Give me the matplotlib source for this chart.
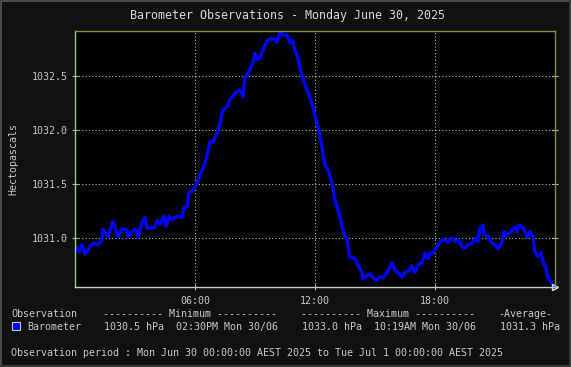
import numpy as np
import matplotlib
matplotlib.use("Agg")
import matplotlib.pyplot as plt
from matplotlib.patches import Rectangle

# barometer readings, hour of day vs hPa
hours = [0.00, 0.20, 0.35, 0.50, 0.75, 0.90, 1.15, 1.35, 1.40, 1.65,
         1.90, 2.15, 2.35, 2.60, 2.65, 2.85, 3.05, 3.15, 3.35, 3.50,
         3.60, 4.00, 4.10, 4.25, 4.45, 4.55, 4.70, 4.85, 5.00, 5.15,
         5.35, 5.45, 5.60, 5.70, 5.90, 6.10, 6.25, 6.50, 6.65, 6.75,
         6.90, 7.10, 7.25, 7.40, 7.60, 7.75, 8.00, 8.25, 8.40, 8.50,
         8.70, 8.90, 9.00, 9.10, 9.25, 9.40, 9.60, 9.90, 10.10, 10.25,
         10.40, 10.60, 10.75, 10.85, 11.00, 11.15, 11.25, 11.40, 11.60, 11.75,
         11.90, 12.10, 12.25, 12.40, 12.50, 12.65, 12.85, 13.00, 13.25, 13.40,
         13.60, 13.75, 14.00, 14.15, 14.35, 14.40, 14.60, 14.75, 14.90, 15.10,
         15.25, 15.40, 15.60, 15.85, 16.00, 16.15, 16.35, 16.50, 16.65, 16.85,
         17.00, 17.15, 17.35, 17.50, 17.65, 17.75, 17.90, 18.10, 18.25, 18.40,
         18.65, 18.85, 19.00, 19.20, 19.35, 19.50, 19.65, 19.85, 20.00, 20.15,
         20.25, 20.40, 20.45, 20.65, 20.85, 21.00, 21.15, 21.35, 21.45, 21.60,
         21.85, 22.00, 22.10, 22.20, 22.40, 22.60, 22.75, 22.90, 23.00, 23.15,
         23.30, 23.40, 23.55, 23.65, 23.85, 24.00]
pressure = [1030.94, 1030.87, 1030.94, 1030.85, 1030.92, 1030.95, 1030.94, 1030.98, 1031.08, 1031.01,
            1031.15, 1031.01, 1031.08, 1031.08, 1031.01, 1031.06, 1031.08, 1031.01, 1031.14, 1031.19,
            1031.09, 1031.10, 1031.16, 1031.13, 1031.20, 1031.11, 1031.20, 1031.17, 1031.19, 1031.20,
            1031.19, 1031.28, 1031.29, 1031.42, 1031.44, 1031.51, 1031.58, 1031.69, 1031.80, 1031.89,
            1031.89, 1031.97, 1032.06, 1032.19, 1032.21, 1032.28, 1032.34, 1032.37, 1032.31, 1032.48,
            1032.54, 1032.63, 1032.71, 1032.65, 1032.67, 1032.74, 1032.83, 1032.85, 1032.81, 1032.91,
            1032.88, 1032.88, 1032.81, 1032.83, 1032.74, 1032.67, 1032.57, 1032.48, 1032.37, 1032.30,
            1032.21, 1032.06, 1031.95, 1031.79, 1031.67, 1031.63, 1031.51, 1031.35, 1031.19, 1031.07,
            1030.98, 1030.82, 1030.81, 1030.75, 1030.68, 1030.62, 1030.65, 1030.67, 1030.63, 1030.61,
            1030.64, 1030.63, 1030.68, 1030.77, 1030.70, 1030.68, 1030.64, 1030.68, 1030.69, 1030.74,
            1030.68, 1030.75, 1030.77, 1030.86, 1030.81, 1030.86, 1030.86, 1030.92, 1030.96, 1030.99,
            1030.96, 1031.00, 1030.97, 1030.98, 1030.92, 1030.91, 1030.94, 1030.95, 1031.00, 1030.97,
            1031.09, 1031.12, 1031.03, 1031.02, 1030.95, 1030.94, 1030.90, 1030.96, 1031.06, 1031.03,
            1031.07, 1031.10, 1031.06, 1031.12, 1031.10, 1031.01, 1031.06, 1031.01, 1030.87, 1030.83,
            1030.86, 1030.78, 1030.72, 1030.63, 1030.58, 1030.55]

yticks = [1031.0, 1031.5, 1032.0, 1032.5]
xticks = [6, 12, 18]
xlabels = ["06:00", "12:00", "18:00"]

title = "Barometer Observations - Monday June 30, 2025"
legend_head = ["Observation", "---------- Minimum ----------",
               "---------- Maximum ----------", "-Average-"]
legend_row = ["Barometer", "1030.5 hPa", "02:30PM Mon 30/06",
              "1033.0 hPa", "10:19AM Mon 30/06", "1031.3 hPa"]
period = "Observation period : Mon Jun 30 00:00:00 AEST 2025 to Tue Jul 1 00:00:00 AEST 2025"

bg = "#111111"
txt = "#c8c8c8"
grid_c = "#90d090"
mono = "DejaVu Sans Mono"
fs = 7.2

fig = plt.figure(figsize=(5.71, 3.67), dpi=100, facecolor=bg)
W, H = 571, 367

def fx(px):
    return px / W

def fy(py):
    return 1 - py / H

# outer frame: lighter top/left, darker bottom/right
fig.add_artist(plt.Line2D([fx(1), fx(1), fx(570)], [fy(366), fy(1), fy(1)],
                          color="#4a4a4a", lw=1.5, transform=fig.transFigure))
fig.add_artist(plt.Line2D([fx(1), fx(569.5), fx(569.5)], [fy(366), fy(366), fy(1)],
                          color="#3a3a3a", lw=2.0, transform=fig.transFigure))

ax = fig.add_axes([fx(75), fy(287), fx(555) - fx(75), fy(31) - fy(287)])
ax.set_facecolor("black")
ax.plot(hours, pressure, color="#0000ff", lw=2.4)

ax.set_xlim(0, 24)
ax.set_ylim(1030.546, 1032.917)
ax.set_xticks(xticks)
ax.set_xticklabels(xlabels)
ax.set_yticks(yticks)
ax.set_yticklabels([f"{v:.1f}" for v in yticks])
ax.grid(True, color=grid_c, ls=(0, (1, 2)), lw=0.8)
ax.tick_params(colors=grid_c, labelcolor=txt, length=5, width=0.8,
               direction="inout", labelsize=fs, right=True, pad=3)
ax.tick_params(axis="x", pad=4)
for lab in ax.get_xticklabels() + ax.get_yticklabels():
    lab.set_family(mono)

ax.spines["left"].set_color("#90d090")
ax.spines["top"].set_color("#8a8a40")
ax.spines["right"].set_color("#8a8a40")
ax.spines["bottom"].set_color("#c8c8c8")
for s in ax.spines.values():
    s.set_linewidth(1)
# arrow at the end of the x axis
ax.plot([1.0], [0], marker=">", ms=5, mfc="none", mec="#e0e0e0",
        transform=ax.transAxes, clip_on=False)

fig.text(fx(13), fy(159), "Hectopascals", color=txt, family=mono, fontsize=fs,
         rotation=90, ha="center", va="center")

fig.text(fx(287), fy(15), title, color="#d8d8d8", family=mono, fontsize=8.4,
         ha="center", va="center")

head_x = [11, 103, 301, 498]
for x, s in zip(head_x, legend_head):
    fig.text(fx(x), fy(314), s, color=txt, family=mono, fontsize=fs, va="center")

fig.patches.append(Rectangle((fx(12), fy(330)), 8 / W, 8 / H, transform=fig.transFigure,
                             facecolor="#0000ff", edgecolor="#c8c8c8", lw=0.8))
row_x = [27, 104, 176, 302, 374, 500]
for x, s in zip(row_x, legend_row):
    fig.text(fx(x), fy(327), s, color=txt, family=mono, fontsize=fs, va="center")

fig.text(fx(11), fy(353), period, color=txt, family=mono, fontsize=fs, va="center")

fig.savefig("out.png", dpi=100, facecolor=bg)
